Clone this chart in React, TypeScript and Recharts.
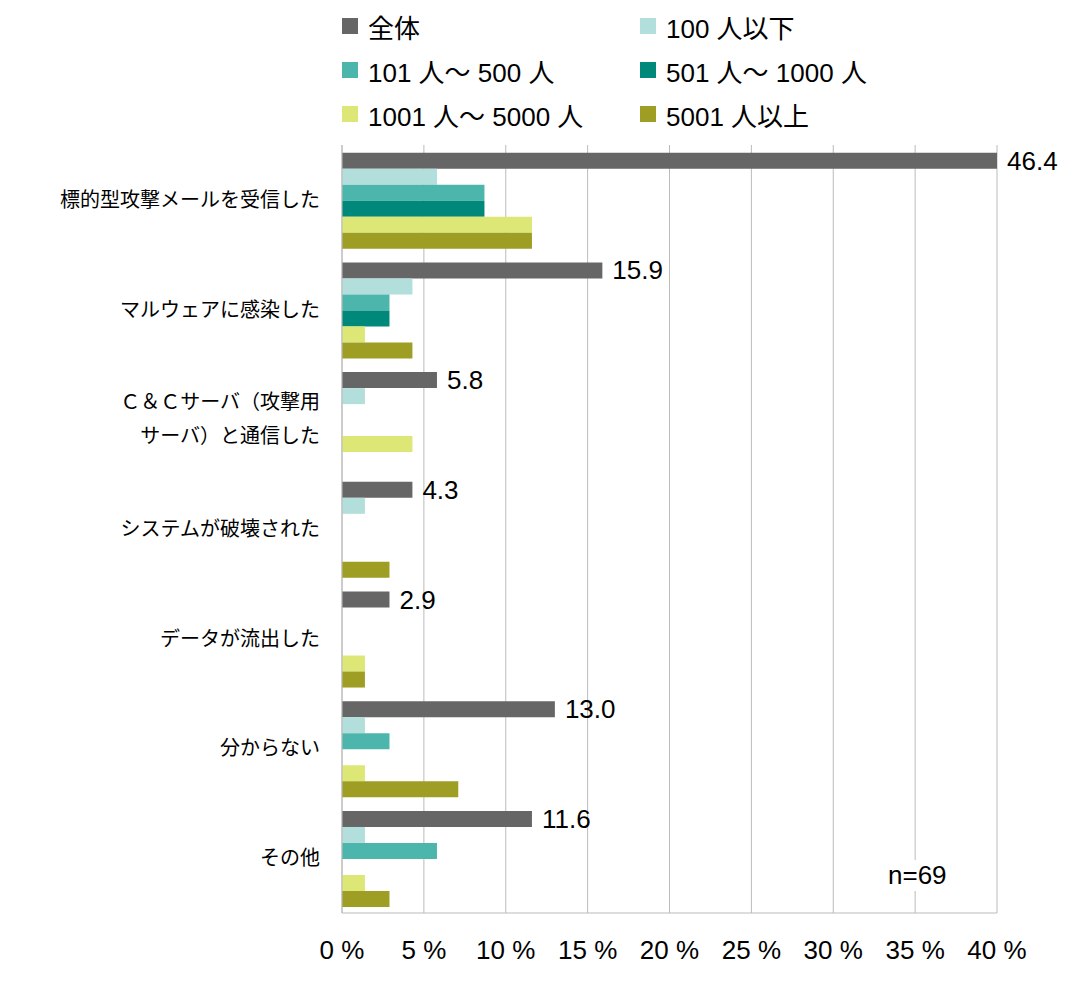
import React from 'react';
import { BarChart, Bar, XAxis, YAxis, CartesianGrid, LabelList } from 'recharts';

const categories = ['標的型攻撃メールを受信した', 'マルウェアに感染した', 'Ｃ＆Ｃサーバ（攻撃用\nサーバ）と通信した', 'システムが破壊された', 'データが流出した', '分からない', 'その他'];
const seriesNames = ['全体', '100 人以下', '101 人〜 500 人', '501 人〜 1000 人', '1001 人〜 5000 人', '5001 人以上'];
const colors = ['#666666', '#b2dfdb', '#4db6ac', '#00897b', '#dce775', '#9e9d24'];
const all = [46.4, 15.9, 5.8, 4.3, 2.9, 13.0, 11.6];
const s100 = [5.8, 4.3, 1.4, 1.4, 0, 1.4, 1.4];
const s500 = [8.7, 2.9, 0, 0, 0, 2.9, 5.8];
const s1000 = [8.7, 2.9, 0, 0, 0, 0, 0];
const s5000 = [11.6, 1.4, 4.3, 0, 1.4, 1.4, 1.4];
const s5001 = [11.6, 4.3, 0, 2.9, 1.4, 7.1, 2.9];
const xTicks = [0, 5, 10, 15, 20, 25, 30, 35, 40];

const seriesValues = [all, s100, s500, s1000, s5000, s5001];
const data = categories.map((name, i) => {
  const row: any = { name };
  seriesValues.forEach((vals, k) => { row['s' + k] = Math.min(vals[i], 40); });
  return row;
});

const font = '"Liberation Sans", "Noto Sans CJK JP", sans-serif';

const YTick = (props: any) => {
  const { x, y, payload } = props;
  const lines = String(payload.value).split('\n');
  const start = y - ((lines.length - 1) * 34) / 2;
  return (
    <text x={x - 14} y={start} textAnchor="end" dominantBaseline="central" fontSize={20} fill="#000" fontFamily={font}>
      {lines.map((l, i) => (
        <tspan key={i} x={x - 14} dy={i === 0 ? 0 : 34}>{l}</tspan>
      ))}
    </text>
  );
};

const AllLabel = (props: any) => {
  const { x, y, width, height, index } = props;
  return (
    <text x={x + width + 10} y={y + height / 2} dominantBaseline="central" fontSize={26} fill="#000" fontFamily={font}>
      {all[index].toFixed(1)}
    </text>
  );
};

export default function App() {
  return (
    <div style={{ position: 'relative', width: 1065, height: 973, fontFamily: font }}>
      <div style={{ position: 'absolute', left: 334, top: 0, display: 'grid', gridTemplateColumns: '298px 300px', rowGap: 8, fontSize: 26 }}>
        {seriesNames.map((n, i) => (
          <div key={n} style={{ display: 'flex', alignItems: 'center', height: 36 }}>
            <span style={{ width: 16, height: 16, background: colors[i], marginRight: 10, display: 'inline-block' }} />
            <span>{n}</span>
          </div>
        ))}
      </div>
      <BarChart
        width={1065}
        height={973}
        data={data}
        layout="vertical"
        barCategoryGap="7%"
        barGap={0}
        margin={{ top: 137, right: 76, left: 0, bottom: 8 }}
      >
        <CartesianGrid horizontal={false} stroke="#bbbbbb" />
        <XAxis
          type="number"
          domain={[0, 40]}
          ticks={xTicks}
          tickFormatter={(v) => `${v} %`}
          tick={{ fontSize: 26, fill: '#000', fontFamily: font }}
          tickLine={false}
          axisLine={{ stroke: '#bbbbbb' }}
          height={60}
          tickMargin={22}
        />
        <YAxis
          type="category"
          dataKey="name"
          width={334}
          tick={<YTick />}
          tickLine={false}
          axisLine={{ stroke: '#bbbbbb' }}
        />
        {seriesNames.map((n, k) => (
          <Bar key={n} dataKey={'s' + k} name={n} fill={colors[k]} isAnimationActive={false}>
            {k === 0 && <LabelList content={<AllLabel />} />}
          </Bar>
        ))}
      </BarChart>
      <div style={{ position: 'absolute', left: 876, top: 852, fontSize: 26, background: '#fff', padding: '0 4px' }}>n=69</div>
    </div>
  );
}
